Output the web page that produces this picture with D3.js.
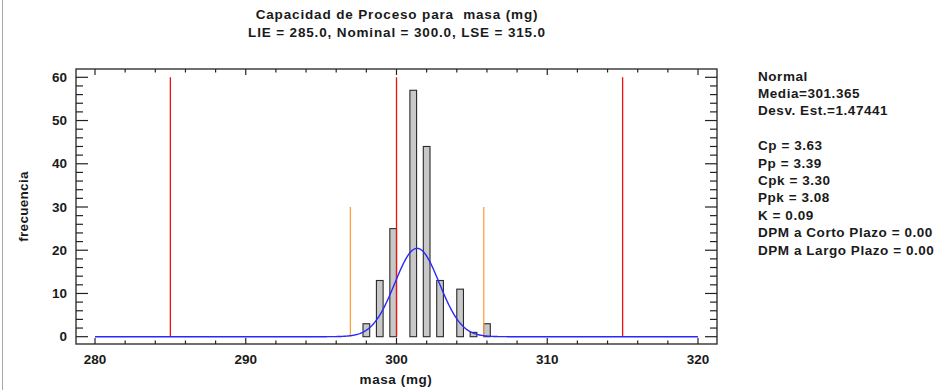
<!DOCTYPE html>
<html>
<head>
<meta charset="utf-8">
<script src="https://cdn.jsdelivr.net/npm/d3@7"></script>
<style>
    body { margin: 0; background: #fff; }
    text { font-family: "Liberation Sans", Arial, sans-serif; font-weight: bold; fill: #1a1a1a; }
</style>
</head>
<body>
<div id="chart"></div>
<script>
// histogram of masa (mg), bins of 40/90 mg between 280 and 320
var binCenters = [298.00, 298.89, 299.78, 301.11, 302.00, 302.89, 304.22, 305.11, 306.00];
var counts = [3, 13, 25, 57, 44, 13, 11, 1, 3];
var binWidth = 40 / 90;

// spec limits LIE, Nominal, LSE
var specLimits = [285, 300, 315];
var mean = 301.365;
var stdDev = 1.47441;

var xTicks = [280, 290, 300, 310, 320];
var yTicks = [0, 10, 20, 30, 40, 50, 60];

var titleLines = ["Capacidad de Proceso para\u00a0 masa (mg)", "LIE = 285.0, Nominal = 300.0, LSE = 315.0"];
var statsLines = ["Normal", "Media=301.365", "Desv. Est.=1.47441", "",
    "Cp = 3.63", "Pp = 3.39", "Cpk = 3.30", "Ppk = 3.08", "K = 0.09",
    "DPM a Corto Plazo = 0.00", "DPM a Largo Plazo = 0.00"];

var width = 946, height = 390;
// plot frame
var frame = { left: 76, top: 69, right: 717, bottom: 344 };

var svg = d3.select("#chart").append("svg")
    .attr("width", width)
    .attr("height", height);

// window border on the left
svg.append("line")
    .attr("x1", 2.5).attr("x2", 2.5)
    .attr("y1", 0).attr("y2", height)
    .attr("stroke", "#a8a8a8");

var x = d3.scaleLinear().domain([280, 320]).range([95, 698]);
var y = d3.scaleLinear().domain([0, 60]).range([336.7, 77.3]);

// bars
svg.append("g").selectAll("rect")
    .data(binCenters)
    .enter().append("rect")
    .attr("x", d => x(d - binWidth / 2))
    .attr("width", d => x(d + binWidth / 2) - x(d - binWidth / 2))
    .attr("y", (d, i) => y(counts[i]))
    .attr("height", (d, i) => y(0) - y(counts[i]))
    .attr("fill", "#c8c8c8")
    .attr("stroke", "#2a2a2a")
    .attr("stroke-width", 1.1);

// spec limit lines
svg.append("g").selectAll("line")
    .data(specLimits)
    .enter().append("line")
    .attr("x1", d => x(d)).attr("x2", d => x(d))
    .attr("y1", y(0)).attr("y2", y(60))
    .attr("stroke", "#f01010")
    .attr("stroke-width", 1.3);

// mean +/- 3 sigma
svg.append("g").selectAll("line")
    .data([mean - 3 * stdDev, mean + 3 * stdDev])
    .enter().append("line")
    .attr("x1", d => x(d)).attr("x2", d => x(d))
    .attr("y1", y(0)).attr("y2", y(30))
    .attr("stroke", "#ffa040")
    .attr("stroke-width", 1.3);

// fitted normal curve
var total = d3.sum(counts);
var scale = total * binWidth / (stdDev * Math.sqrt(2 * Math.PI));
var curve = d3.range(280, 320.001, 0.05).map(v => [v, scale * Math.exp(-0.5 * Math.pow((v - mean) / stdDev, 2))]);
svg.append("path")
    .datum(curve)
    .attr("fill", "none")
    .attr("stroke", "#2828ff")
    .attr("stroke-width", 1.4)
    .attr("d", d3.line().x(d => x(d[0])).y(d => y(d[1])));

// frame
svg.append("rect")
    .attr("x", frame.left).attr("y", frame.top)
    .attr("width", frame.right - frame.left)
    .attr("height", frame.bottom - frame.top)
    .attr("fill", "none")
    .attr("stroke", "#333")
    .attr("stroke-width", 1.4);

// ticks, pointing inwards
var ticks = svg.append("g").attr("stroke", "#222").attr("stroke-width", 1.2);
var xMinor = d3.range(280, 320.001, 2);
ticks.selectAll(".xb").data(xMinor).enter().append("line")
    .attr("x1", d => x(d)).attr("x2", d => x(d))
    .attr("y1", frame.bottom).attr("y2", d => frame.bottom - (d % 10 === 0 ? 6 : 3.5));
ticks.selectAll(".xt").data(xMinor).enter().append("line")
    .attr("x1", d => x(d)).attr("x2", d => x(d))
    .attr("y1", frame.top).attr("y2", d => frame.top + (d % 10 === 0 ? 6 : 3.5));
var yMinor = d3.range(0, 60.001, 2);
ticks.selectAll(".yl").data(yMinor).enter().append("line")
    .attr("y1", d => y(d)).attr("y2", d => y(d))
    .attr("x1", frame.left).attr("x2", d => frame.left + (d % 10 === 0 ? 12 : 7));
ticks.selectAll(".yr").data(yMinor).enter().append("line")
    .attr("y1", d => y(d)).attr("y2", d => y(d))
    .attr("x1", frame.right).attr("x2", d => frame.right - (d % 10 === 0 ? 12 : 7));

// tick labels
svg.append("g").selectAll("text")
    .data(xTicks)
    .enter().append("text")
    .attr("x", d => x(d))
    .attr("y", 363.5)
    .attr("text-anchor", "middle")
    .style("font-size", "13.5px")
    .text(d => d);
svg.append("g").selectAll("text")
    .data(yTicks)
    .enter().append("text")
    .attr("x", 67)
    .attr("y", d => y(d) + 4.7)
    .attr("text-anchor", "end")
    .style("font-size", "13.5px")
    .text(d => d);

// axis titles
svg.append("text")
    .attr("x", 396).attr("y", 383.5)
    .attr("text-anchor", "middle")
    .style("font-size", "13.5px")
    .style("letter-spacing", "0.6px")
    .text("masa (mg)");
svg.append("text")
    .attr("transform", "translate(28,206.5) rotate(-90)")
    .attr("text-anchor", "middle")
    .style("font-size", "13.5px")
    .style("letter-spacing", "0.3px")
    .text("frecuencia");

// title
svg.append("g").selectAll("text")
    .data(titleLines)
    .enter().append("text")
    .attr("x", 397)
    .attr("y", (d, i) => 18.5 + i * 18.5)
    .attr("text-anchor", "middle")
    .style("font-size", "13.5px")
    .style("letter-spacing", "0.85px")
    .text(d => d);

// statistics panel
svg.append("g").selectAll("text")
    .data(statsLines)
    .enter().append("text")
    .attr("x", 758)
    .attr("y", (d, i) => 80.5 + i * 17.4)
    .style("font-size", "13.5px")
    .style("letter-spacing", "0.55px")
    .text(d => d);
</script>
</body>
</html>
